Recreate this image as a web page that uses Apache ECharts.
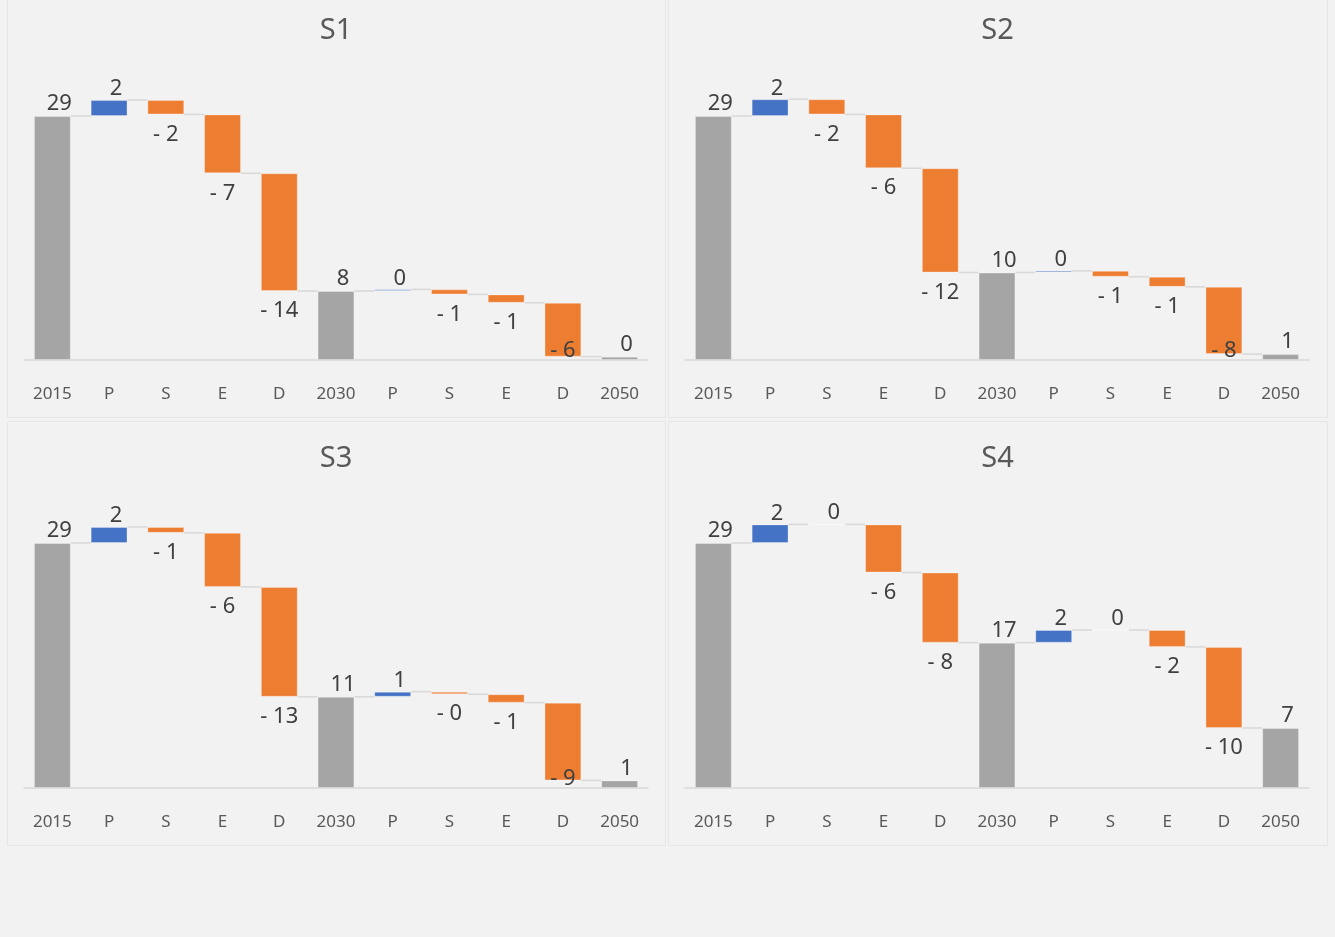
<!DOCTYPE html>
<html>
<head>
<meta charset="utf-8">
<title>S1–S4</title>
<script src="https://cdn.jsdelivr.net/npm/echarts@6/dist/echarts.min.js"></script>
<style>
  html, body { margin: 0; padding: 0; background: #f2f2f2; }
  #chart { width: 1335px; height: 937px; }
</style>
</head>
<body>
<div id="chart"></div>
<script>
// Step labels along each waterfall
const categories = ['2015', 'P', 'S', 'E', 'D', '2030', 'P', 'S', 'E', 'D', '2050'];
// 1 marks a total (bar from zero), 0 marks a step change
const isTotal = [1, 0, 0, 0, 0, 1, 0, 0, 0, 0, 1];

// Scenario values: totals and step changes
const s1 = [29, 1.9, -1.7, -7.0, -14.0, 8.2, 0.2, -0.6, -1.0, -6.4, 0.4];
const s2 = [29, 2.0, -1.8, -6.4, -12.4, 10.4, 0.2, -0.7, -1.2, -8.0, 0.7];
const s3 = [29, 1.9, -0.7, -6.4, -13.0, 10.8, 0.6, -0.3, -1.0, -9.2, 0.9];
const s4 = [29, 2.2, 0.0, -5.7, -8.3, 17.2, 1.5, 0.0, -2.0, -9.6, 7.1];

const scenarioNames = ['S1', 'S2', 'S3', 'S4'];
const scenarios = [s1, s2, s3, s4];

const COLORS = { total: '#a5a5a5', up: '#4472c4', down: '#ed7d31' };
const FONT = '"Noto Sans", "Open Sans", sans-serif';
const Y_MAX = 35;

// panel frames and plot areas (pixels)
const panels = [
  { x: 7,   y: -1,  w: 658, h: 418, gridTop: 65.6,  gridH: 294.4, left: 24,  titleY: 31 },
  { x: 668, y: -1,  w: 659, h: 418, gridTop: 65.6,  gridH: 294.4, left: 685, titleY: 31 },
  { x: 7,   y: 421, w: 658, h: 424, gridTop: 492.3, gridH: 295.7, left: 24,  titleY: 459 },
  { x: 668, y: 421, w: 659, h: 424, gridTop: 492.3, gridH: 295.7, left: 685, titleY: 459 }
];
const GRID_W = 624;
const BAR_FRACTION = 0.65;

function fmtStep(d) {
  return d < 0 ? '- ' + Math.round(-d) : String(Math.round(d));
}

// Turn totals + steps into invisible bases, visible bars and connector levels
function buildWaterfall(vals) {
  const base = [], bars = [], links = [];
  let run = 0;
  vals.forEach((v, i) => {
    let level;
    if (isTotal[i]) {
      base.push(0);
      bars.push({
        value: v,
        itemStyle: { color: COLORS.total },
        label: { position: 'top', distance: 1, formatter: String(Math.round(v)) }
      });
      level = v;
    } else {
      const next = run + v;
      base.push(Math.min(run, next));
      const up = v >= 0;
      bars.push({
        value: Math.abs(v),
        itemStyle: { color: up ? COLORS.up : COLORS.down },
        label: up
          ? { position: 'top', distance: 0, formatter: fmtStep(v) }
          : { position: 'bottom', distance: 9, formatter: fmtStep(v) }
      });
      level = next;
    }
    run = level;
    if (i < vals.length - 1) links.push([i, level]);
  });
  return { base, bars, links };
}

function renderLink(params, api) {
  const p = api.coord([api.value(0), api.value(1)]);
  const band = api.size([1, 0])[0];
  const half = band * BAR_FRACTION / 2;
  return {
    type: 'line',
    shape: { x1: p[0] + half, y1: p[1], x2: p[0] + band - half, y2: p[1] },
    style: { stroke: '#d9d9d9', lineWidth: 1.6 }
  };
}

const grid = [], xAxis = [], yAxis = [], series = [], graphics = [];

panels.forEach((pn, k) => {
  const baseline = pn.gridTop + pn.gridH;
  const vals = scenarios[k];
  grid.push({ left: pn.left, top: pn.gridTop, width: GRID_W, height: pn.gridH });
  xAxis.push({
    type: 'category', gridIndex: k, data: categories,
    axisTick: { show: false },
    axisLine: { lineStyle: { color: '#d9d9d9', width: 1.6 } },
    axisLabel: { color: '#595959', fontSize: 17, fontFamily: FONT, margin: 26, interval: 0 }
  });
  yAxis.push({ type: 'value', gridIndex: k, min: 0, max: Y_MAX, show: false, splitLine: { show: false } });

  graphics.push({
    type: 'rect', z: -10, silent: true,
    shape: { x: pn.x + 0.5, y: pn.y + 0.5, width: pn.w, height: pn.h },
    style: { fill: 'none', stroke: '#e6e6e6', lineWidth: 1 }
  });
  graphics.push({
    type: 'text', silent: true,
    x: pn.x + pn.w / 2, y: pn.titleY,
    style: {
      text: scenarioNames[k], align: 'center', verticalAlign: 'middle',
      fill: '#595959', fontSize: 29, fontFamily: FONT
    }
  });

  const wf = buildWaterfall(vals);
  series.push({
    type: 'bar', xAxisIndex: k, yAxisIndex: k, stack: 'wf' + k,
    data: wf.base, silent: true,
    itemStyle: { color: 'transparent' },
    barCategoryGap: '35%'
  });
  series.push({
    type: 'bar', xAxisIndex: k, yAxisIndex: k, stack: 'wf' + k,
    data: wf.bars,
    barCategoryGap: '35%',
    itemStyle: { borderColor: 'rgba(255,255,255,0.3)', borderWidth: 1 },
    label: { show: true, color: '#404040', fontSize: 22, fontFamily: FONT },
    labelLayout: function (p) {
      const r = p.labelRect;
      const v = vals[p.dataIndex];
      // numbers above a bar sit a little right of centre
      if (isTotal[p.dataIndex] || v >= 0) {
        return { dx: 7 };
      }
      // keep labels under a bar from dropping past the axis line
      if (r.y + r.height > baseline + 1) {
        return { dy: (baseline - 9) - (r.y + r.height / 2) };
      }
      return {};
    }
  });
  series.push({
    type: 'custom', xAxisIndex: k, yAxisIndex: k,
    renderItem: renderLink, data: wf.links, silent: true, z: 1
  });
});

const chart = echarts.init(document.getElementById('chart'), null, { renderer: 'canvas' });
chart.setOption({
  backgroundColor: '#f2f2f2',
  animation: false,
  grid, xAxis, yAxis, series,
  graphic: graphics
});
</script>
</body>
</html>
